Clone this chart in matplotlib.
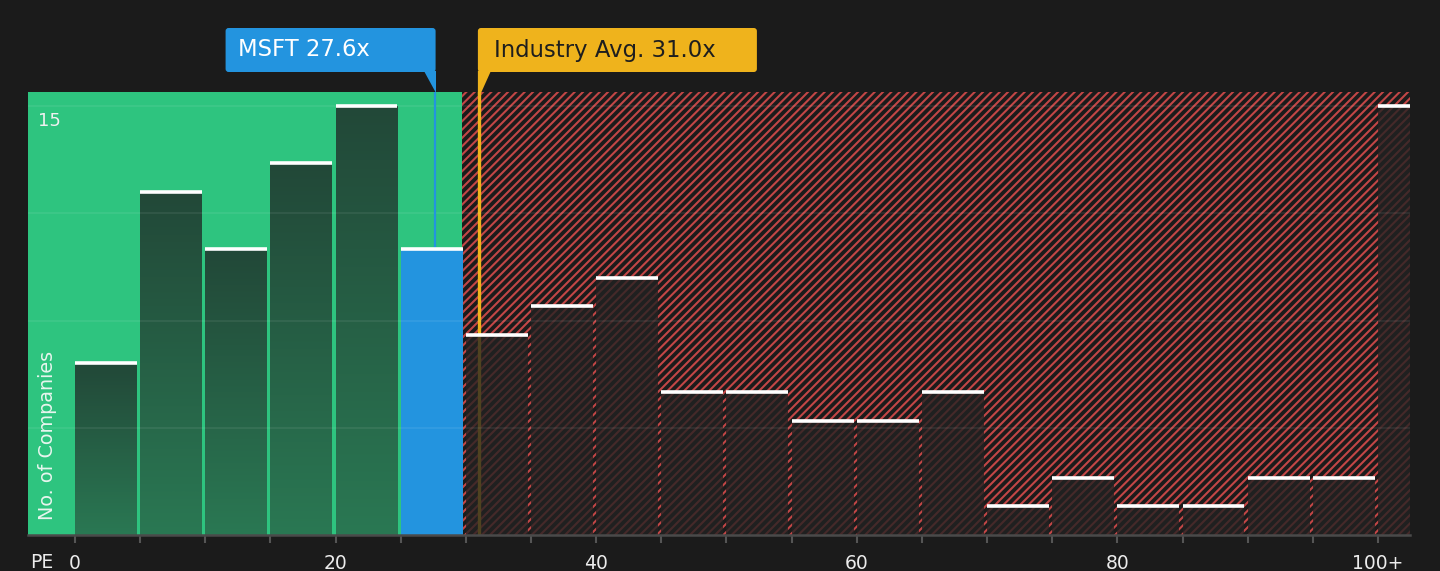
import numpy as np
import matplotlib
matplotlib.use('Agg')
import matplotlib.pyplot as plt
from matplotlib.patches import Rectangle, FancyBboxPatch, Polygon
from matplotlib.colors import LinearSegmentedColormap
from matplotlib.transforms import IdentityTransform

# ---- data ----
bin_starts = [0, 5, 10, 15, 20, 25, 30, 35, 40, 45, 50, 55, 60, 65, 70, 75, 80, 85, 90, 95, 100]
counts = [6, 12, 10, 13, 15, 10, 7, 8, 9, 5, 5, 4, 4, 5, 1, 2, 1, 1, 2, 2, 15]
company_name = "MSFT"
company_pe = 27.6
industry_pe = 31.0
fair_limit = 29.7
tick_values = [0, 20, 40, 60, 80, 100]
tick_labels = ["0", "20", "40", "60", "80", "100+"]
grid_values = [3.75, 7.5, 11.25, 15]

BG = "#1b1b1b"
GREEN = "#2ec47f"
BLUE = "#2394df"
ORANGE = "#efb31c"
RED = "#c24646"

plt.rcParams['hatch.linewidth'] = 1.5

W, H = 1440, 571
fig = plt.figure(figsize=(W / 100, H / 100), dpi=100, facecolor=BG)
ax = fig.add_axes([28 / W, 1 - 535 / H, (1410 - 28) / W, (535 - 92) / H])
ax.set_facecolor(BG)

XMIN, XMAX = -3.6, 102.45
YMAX = 15.49
bw = 4.75

# regions
ax.add_patch(Rectangle((XMIN, 0), fair_limit - XMIN, YMAX, facecolor=GREEN, edgecolor='none', zorder=1))
ax.add_patch(Rectangle((fair_limit, 0), XMAX + 5 - fair_limit, YMAX, facecolor=BG,
                       edgecolor=RED, hatch='////', linewidth=0, zorder=1))

# industry line (beneath bars)
ax.axvline(industry_pe, color=ORANGE, lw=2.4, zorder=2)

cmap = LinearSegmentedColormap.from_list('g', ['#2a7853', '#224838'])
grad = np.linspace(0, 1, 256).reshape(-1, 1)

for x0, c in zip(bin_starts, counts):
    if x0 + bw <= fair_limit + 0.1 and not (x0 <= company_pe < x0 + 5):
        rect = Rectangle((x0, 0), bw, c, facecolor='none', edgecolor='none', zorder=3)
        ax.add_patch(rect)
        im = ax.imshow(grad, cmap=cmap, extent=[x0, x0 + bw, 0, c], origin='lower',
                       aspect='auto', zorder=3, interpolation='bilinear')
        im.set_clip_path(rect)
    elif x0 <= company_pe < x0 + 5:
        ax.add_patch(Rectangle((x0, 0), bw, c, facecolor=BLUE, edgecolor='none', zorder=3))
    else:
        ax.add_patch(Rectangle((x0, 0), bw, c, facecolor='#222222', alpha=0.78,
                               edgecolor='none', zorder=3))

# grid lines
ax.hlines(grid_values, XMIN, XMAX, colors='white', alpha=0.08, lw=1.2, zorder=4)

# caps
ax.hlines(counts, np.array(bin_starts), np.array(bin_starts) + bw, colors='white', lw=2.6, zorder=6)

# company line
ax.plot([company_pe, company_pe], [counts[bin_starts.index(25)], YMAX], color=BLUE, lw=1.6, zorder=5,
        solid_capstyle='butt')

ax.set_xlim(XMIN, XMAX)
ax.set_ylim(0, YMAX)

ax.set_xticks(list(range(0, 101, 5)))
ax.set_xticklabels([tick_labels[tick_values.index(v)] if v in tick_values else '' for v in range(0, 101, 5)])
ax.tick_params(axis='x', colors='#555555', length=6, width=1.5, pad=8, labelsize=13.5, labelcolor='#ececec')
ax.set_yticks([])
for s in ['top', 'left', 'right']:
    ax.spines[s].set_visible(False)
ax.spines['bottom'].set_color('#4a4a4a')
ax.spines['bottom'].set_linewidth(1.8)
ax.spines['bottom'].set_zorder(7)

ax.text(0.0075, (535 - 121) / (535 - 92), "15", transform=ax.transAxes, color='#f0f0f0',
        fontsize=13, ha='left', va='center', zorder=8)
ax.text((48 - 28) / (1410 - 28), (535 - 520) / (535 - 92), "No. of Companies", transform=ax.transAxes,
        rotation=90, color='#e8f5ee', fontsize=13.8, ha='center', va='bottom', zorder=8)
fig.text(42 / W, 1 - 563 / H, "PE", color='#ececec', fontsize=13.5, ha='center', va='center')

# annotation boxes in pixel coordinates
fig.canvas.draw()
idt = IdentityTransform()


def py(y):
    return H - y


px_c = ax.transData.transform((company_pe, 0))[0]
px_i = ax.transData.transform((industry_pe, 0))[0]

bx1 = px_c + 1
bx0 = bx1 - 210
fig.add_artist(FancyBboxPatch((bx0 + 3, py(72) + 3), 210 - 6, 44 - 6,
                              boxstyle='round,pad=3,rounding_size=3', facecolor=BLUE,
                              edgecolor='none', transform=idt))
fig.add_artist(Polygon([(bx1 - 12, py(71)), (bx1, py(71)), (bx1, py(93))], closed=True,
                       facecolor=BLUE, edgecolor='none', transform=idt))
fig.text((bx0 + 12) / W, 1 - 50 / H, f"{company_name} {company_pe}x", color='white', fontsize=16.3,
         ha='left', va='center')

ix0 = px_i - 1
fig.add_artist(FancyBboxPatch((ix0 + 3, py(72) + 3), 279 - 6, 44 - 6,
                              boxstyle='round,pad=3,rounding_size=3', facecolor=ORANGE,
                              edgecolor='none', transform=idt))
fig.add_artist(Polygon([(ix0, py(71)), (ix0 + 13, py(71)), (px_i + 1.2, py(95)), (ix0, py(95))], closed=True,
                       facecolor=ORANGE, edgecolor='none', transform=idt))
fig.text((ix0 + 16) / W, 1 - 50 / H, f"Industry Avg. {industry_pe}x", color='#1e1e1e', fontsize=16.4,
         ha='left', va='center')

fig.savefig('out.png', dpi=100, facecolor=BG)
